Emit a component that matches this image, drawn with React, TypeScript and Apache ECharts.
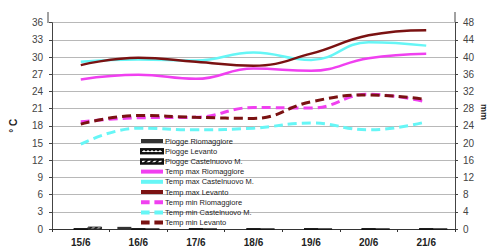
import React, { useEffect, useRef } from "react";
import * as echarts from "echarts";

const categories = ["15/6", "16/6", "17/6", "18/6", "19/6", "20/6", "21/6"];

const pioggeRiomaggiore = [0, 0.5, 0, 0, 0, 0, 0];
const pioggeLevanto = [0, 0, 0, 0, 0, 0, 0];
const pioggeCastelnuovo = [0.5, 0, 0, 0, 0, 0, 0];

const tMaxRiomaggiore = [26.1, 26.9, 26.2, 28.0, 27.6, 29.8, 30.6];
const tMaxCastelnuovo = [29.2, 29.6, 29.4, 30.8, 29.5, 32.6, 32.0];
const tMaxLevanto = [28.6, 29.9, 29.2, 28.5, 30.6, 33.8, 34.7];

const tMinRiomaggiore = [18.7, 19.4, 19.5, 21.2, 21.1, 23.5, 22.2];
const tMinCastelnuovo = [14.8, 17.6, 17.3, 17.6, 18.5, 17.3, 18.7];
const tMinLevanto = [18.3, 19.8, 19.5, 19.3, 22.2, 23.4, 22.6];

const MAGENTA = "#f040f0";
const CYAN = "#66f6f6";
const DARKRED = "#7a1212";
const FONT = "Liberation Sans, Arial, sans-serif";

const SOLID_ICON = "path://M0,0h23v3.5h-23z";
const DASH_ICON = "path://M0,0h9v3.5h-9z M14,0h9v3.5h-9z";
const BAR_ICON = "path://M0,0h23v4h-23z";

export default function App() {
  const ref = useRef<HTMLDivElement>(null);
  useEffect(() => {
    if (!ref.current) return;
    const chart = echarts.init(ref.current, null, { renderer: "svg" });
    const solid = (name: string, data: number[], color: string) => ({
      name,
      type: "line",
      data,
      smooth: 0.45,
      symbol: "none",
      showSymbol: false,
      lineStyle: { color, width: 2.5 },
      itemStyle: { color },
      z: 3,
    });
    const dashed = (name: string, data: number[], color: string) => ({
      name,
      type: "line",
      data,
      smooth: 0.45,
      symbol: "none",
      showSymbol: false,
      lineStyle: { color, width: 3, type: [9, 5] },
      itemStyle: { color },
      z: 3,
    });
    chart.setOption({
      animation: false,
      textStyle: { fontFamily: FONT },
      grid: { left: 48, right: 33, top: 22.7, bottom: 19 },
      legend: {
        orient: "vertical",
        left: 140,
        top: 136,
        itemWidth: 22,
        itemHeight: 4,
        itemGap: 0.2,
        padding: 0,
        symbolKeepAspect: false,
        textStyle: { fontSize: 7.5, color: "#222", fontFamily: FONT, lineHeight: 10, padding: [0, 0, 0, -3] },
        data: [
          { name: "Piogge Riomaggiore", icon: BAR_ICON },
          { name: "Piogge Levanto", icon: BAR_ICON },
          { name: "Piogge Castelnuovo M.", icon: BAR_ICON },
          { name: "Temp max Riomaggiore", icon: SOLID_ICON },
          { name: "Temp max Castelnuovo M.", icon: SOLID_ICON },
          { name: "Temp max Levanto", icon: SOLID_ICON },
          { name: "Temp min Riomaggiore", icon: DASH_ICON },
          { name: "Temp min Castelnuovo M.", icon: DASH_ICON },
          { name: "Temp min Levanto", icon: DASH_ICON },
        ],
      },
      xAxis: {
        type: "category",
        data: categories,
        boundaryGap: true,
        axisLine: { lineStyle: { color: "#333", width: 1 } },
        axisTick: { show: true, length: 3, lineStyle: { color: "#333" } },
        axisLabel: { fontSize: 10, fontWeight: "bold", color: "#222", margin: 8, fontFamily: FONT },
        splitLine: { show: false },
      },
      yAxis: [
        {
          type: "value",
          min: 0,
          max: 36,
          interval: 3,
          name: "° C",
          nameLocation: "middle",
          nameRotate: 90,
          nameGap: 34,
          nameTextStyle: { fontSize: 10, fontWeight: "bold", color: "#222", fontFamily: FONT },
          axisLine: { show: true, lineStyle: { color: "#444", width: 1 } },
          axisTick: { show: true, length: 3, lineStyle: { color: "#444" } },
          axisLabel: { fontSize: 10, color: "#444", margin: 9, fontFamily: FONT },
          splitLine: { show: true, lineStyle: { color: "#b8b8b8", width: 1 } },
        },
        {
          type: "value",
          min: 0,
          max: 48,
          interval: 4,
          position: "right",
          axisLine: { show: true, lineStyle: { color: "#444", width: 1 } },
          axisTick: { show: true, length: 3, lineStyle: { color: "#444" } },
          axisLabel: { fontSize: 10, color: "#444", margin: 8, fontFamily: FONT },
          splitLine: { show: false },
        },
      ],
      graphic: [
        { type: "line", shape: { x1: 48, y1: 12, x2: 48, y2: 23 }, style: { stroke: "#444", lineWidth: 1 } },
        { type: "line", shape: { x1: 455, y1: 12, x2: 455, y2: 23 }, style: { stroke: "#444", lineWidth: 1 } },
        {
          type: "text",
          x: 484,
          y: 112,
          rotation: -Math.PI / 2,
          style: {
            text: "mm",
            fontSize: 9,
            fontWeight: "bold",
            fill: "#222",
            fontFamily: FONT,
            align: "center",
            verticalAlign: "middle",
          },
        },
      ],
      series: [
        {
          name: "Piogge Riomaggiore",
          type: "bar",
          yAxisIndex: 1,
          data: pioggeRiomaggiore,
          barWidth: 14,
          barGap: "0%",
          itemStyle: { color: "#333" },
        },
        {
          name: "Piogge Levanto",
          type: "bar",
          yAxisIndex: 1,
          data: pioggeLevanto,
          barWidth: 14,
          barGap: "0%",
          itemStyle: {
            color: "#fff",
            borderColor: "#111",
            borderWidth: 1,
            decal: { symbol: "rect", symbolSize: 1, dashArrayX: [1.5, 1.5], dashArrayY: [1.5, 1], color: "#111" },
          },
        },
        {
          name: "Piogge Castelnuovo M.",
          type: "bar",
          yAxisIndex: 1,
          data: pioggeCastelnuovo,
          barWidth: 14,
          barGap: "0%",
          itemStyle: {
            color: "#fff",
            borderColor: "#111",
            borderWidth: 0.5,
            decal: { symbol: "rect", rotation: -Math.PI / 4, dashArrayX: [1, 0], dashArrayY: [1.5, 1.5], color: "#111" },
          },
        },
        solid("Temp max Riomaggiore", tMaxRiomaggiore, MAGENTA),
        solid("Temp max Castelnuovo M.", tMaxCastelnuovo, CYAN),
        solid("Temp max Levanto", tMaxLevanto, DARKRED),
        dashed("Temp min Riomaggiore", tMinRiomaggiore, MAGENTA),
        dashed("Temp min Castelnuovo M.", tMinCastelnuovo, CYAN),
        dashed("Temp min Levanto", tMinLevanto, DARKRED),
      ],
    });
    return () => chart.dispose();
  }, []);
  return (
    <div
      ref={ref}
      style={{ position: "absolute", left: 0, top: 0, width: 488, height: 248, background: "#fff" }}
    />
  );
}
